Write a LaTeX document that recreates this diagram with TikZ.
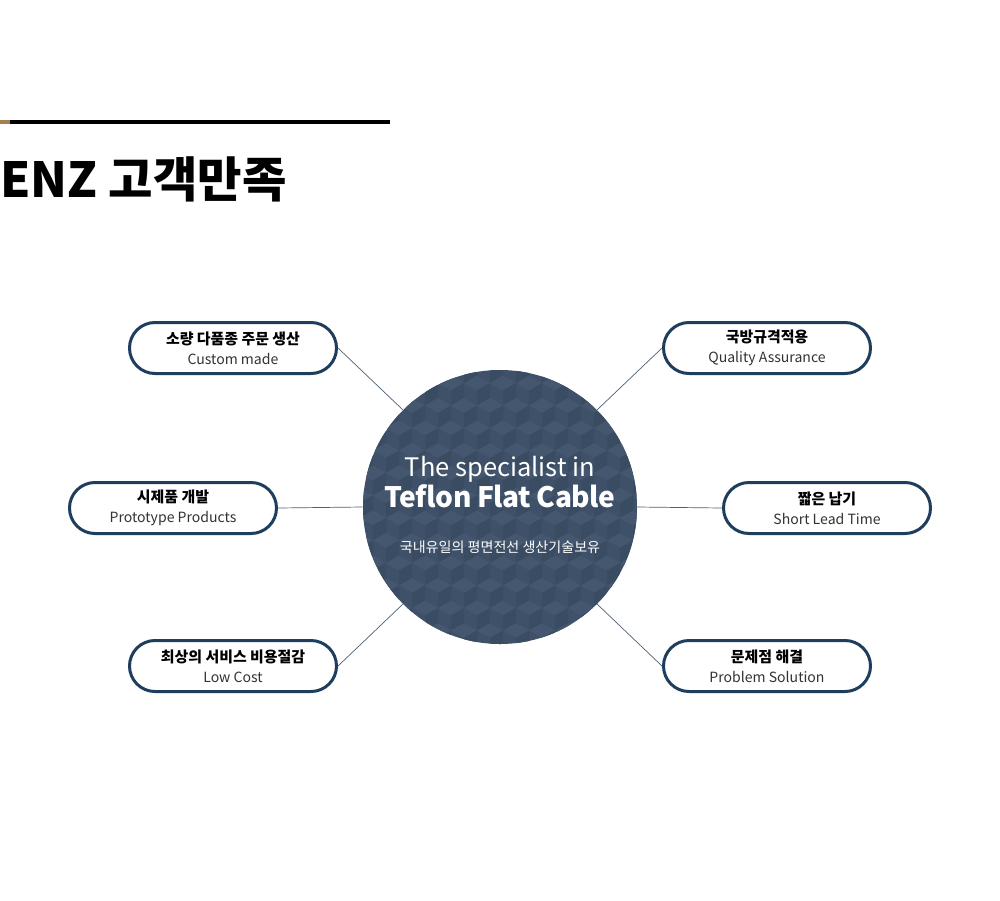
\documentclass[tikz,border=0pt]{standalone}
\usepackage{fontspec}
\setmainfont{Noto Sans CJK KR}
\usetikzlibrary{positioning}
\definecolor{enznavy}{HTML}{1F3E5D}
\definecolor{enzcore}{HTML}{3E5169}
\definecolor{enzlite}{HTML}{44576E}
\definecolor{enzdark}{HTML}{3A4C62}
\definecolor{enzline}{HTML}{4D6075}
\definecolor{enzbrown}{HTML}{A67C52}
\definecolor{enzgrey}{HTML}{333333}
\tikzset{
  pill/.style={rectangle, rounded corners=5.1mm, minimum width=41.4mm, minimum height=10.2mm, draw=enznavy, line width=0.6mm, fill=white, align=center, inner sep=0pt, font=\fontsize{8.5}{11.5}\selectfont},
  core/.style={circle, fill=enzcore, minimum size=54.8mm, inner sep=0pt},
  coretext/.style={text=white, inner sep=0pt, anchor=base},
  link/.style={draw=enzline, line width=0.4pt},
}
\newcommand{\pilltext}[2]{\textbf{#1}\\{\color{enzgrey}\fontsize{8}{11}\selectfont #2}}

\begin{document}
\begin{tikzpicture}[x=0.2mm,y=-0.2mm]
  \useasboundingbox (0,0) rectangle (1000,900);
  % heading
  \fill[enzbrown] (0,120) rectangle (10,124);
  \fill[black] (10,120) rectangle (390,124);
  \node[anchor=base west, inner sep=0pt, font=\bfseries\fontsize{27.5}{30}\selectfont] (title) at (0,197) {ENZ 고객만족};
  % centre disc with cube pattern
  \node[core] (core) at (500,507) {};
  \begin{scope}
    \clip (500,507) circle[radius=27.4mm];
    \foreach \r in {0,...,13}{
      \foreach \c in {0,...,12}{
        \pgfmathsetmacro{\cx}{360+\c*26+mod(\r,2)*13}
        \pgfmathsetmacro{\cy}{368+\r*22.5}
        \fill[enzlite] (\cx,\cy-15) -- (\cx+13,\cy-7.5) -- (\cx,\cy) -- (\cx-13,\cy-7.5) -- cycle;
        \fill[enzdark] (\cx,\cy) -- (\cx+13,\cy-7.5) -- (\cx+13,\cy+7.5) -- (\cx,\cy+15) -- cycle;
      }
    }
  \end{scope}
  \node[coretext, font=\fontsize{14.5}{16}\selectfont] (spec) at (500,476) {The specialist in};
  \node[coretext, font=\bfseries\fontsize{16}{18}\selectfont\addfontfeatures{LetterSpace=-2}] (tfc) at (500,507) {Teflon Flat Cable};
  \node[coretext, font=\fontsize{8}{10}\selectfont] (kr) at (500,552) {국내유일의 평면전선 생산기술보유};
  % six pills
  \node[pill] (tl) at (233,348) {\pilltext{소량 다품종 주문 생산}{Custom made}};
  \node[pill] (ml) at (173,508) {\pilltext{시제품 개발}{Prototype Products}};
  \node[pill] (bl) at (233,666) {\pilltext{최상의 서비스 비용절감}{Low Cost}};
  \node[pill] (tr) at (767,348) {\pilltext{국방규격적용}{Quality Assurance}};
  \node[pill] (mr) at (827,508) {\pilltext{짧은 납기}{Short Lead Time}};
  \node[pill] (br) at (767,666) {\pilltext{문제점 해결}{Problem Solution}};
  % links
  \draw[link] (tl.east) -- (core.135);
  \draw[link] (ml.east) -- (core.west);
  \draw[link] (bl.east) -- (core.225);
  \draw[link] (tr.west) -- (core.45);
  \draw[link] (mr.west) -- (core.east);
  \draw[link] (br.west) -- (core.-45);
\end{tikzpicture}
\end{document}
